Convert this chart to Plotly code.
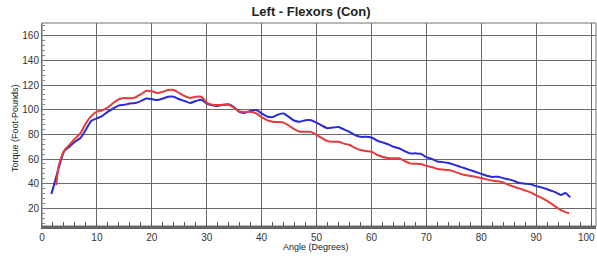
import plotly.graph_objects as go

# Data
blue_angle = [1.7, 2, 3, 4, 5, 6, 7, 8, 9, 10, 11, 12, 13, 14, 15, 16, 17, 18, 19, 20,
              21, 22, 23, 24, 25, 26, 27, 28, 29, 30, 31, 32, 33, 34, 35, 36, 37, 38, 39, 40,
              41, 42, 43, 44, 45, 46, 47, 48, 49, 50, 51, 52, 53, 54, 55, 56, 57, 58, 59, 60,
              61, 62, 63, 64, 65, 66, 67, 68, 69, 70, 71, 72, 73, 74, 75, 76, 77, 78, 79, 80,
              81, 82, 83, 84, 85, 86, 87, 88, 89, 90, 91, 92, 93, 94, 94.5, 95.3, 96.2]
blue_torque = [31.6, 36, 52, 66, 70, 74, 77, 84, 91, 93, 95, 98.5, 101, 103.5, 104, 105, 105.5, 107, 109, 108.5,
               107.8, 109, 110.5, 110.5, 108.5, 107, 105.5, 107, 108, 105, 103.5, 103, 104, 104.4, 102, 98, 97.5, 99, 99.8, 97,
               94.5, 94, 96, 97, 94, 91, 90.3, 91.5, 91.5, 89.5, 87, 85, 85.5, 86, 84, 82, 79.5, 78, 78, 77.5,
               75, 73.5, 72, 70, 68.7, 66.5, 64.6, 64.6, 64.3, 61.5, 60, 58, 57.5, 56.8, 55.5, 54, 52.5, 51, 49.5, 48,
               46.5, 45.5, 45.7, 44.5, 43.5, 42.2, 40.5, 40, 39.5, 38, 37, 35.5, 34, 32, 30.8, 32.5, 29]

red_angle = [2.6, 3, 4, 5, 6, 7, 8, 9, 10, 11, 12, 13, 14, 15, 16, 17, 18, 19, 20,
             21, 22, 23, 24, 25, 26, 27, 28, 29, 30, 31, 32, 33, 34, 35, 36, 37, 38, 39, 40,
             41, 42, 43, 44, 45, 46, 47, 48, 49, 50, 51, 52, 53, 54, 55, 56, 57, 58, 59, 60,
             61, 62, 63, 64, 65, 66, 67, 68, 69, 70, 71, 72, 73, 74, 75, 76, 77, 78, 79, 80,
             81, 82, 83, 84, 85, 86, 87, 88, 89, 90, 91, 92, 93, 94, 95, 96]
red_torque = [38.9, 53.8, 66.5, 71.5, 76.5, 81, 89, 95, 98.4, 99.5, 102, 105.5, 108.5, 109.5, 109.2, 110, 112.5, 115.3, 115,
              113.5, 114.5, 116, 116, 113.5, 111, 109.5, 110.5, 110.5, 105.7, 104, 103.8, 104, 104, 101.5, 98.5, 98.2, 98.4, 97, 94,
              91.5, 90.3, 90, 89.5, 87, 84, 82.2, 82.2, 82, 79.5, 77, 74.5, 74, 74, 72.5, 71.4, 69, 67.3, 66.5, 65.9,
              63.5, 61.9, 60.8, 60.6, 60.6, 58.5, 56.5, 56.2, 56, 54.5, 53.5, 52, 51.5, 51.1, 50, 48.4, 47, 46.2, 45.5, 44.5,
              43.5, 42.5, 42, 41, 39, 37.5, 36, 34.5, 33, 30.5, 28.5, 26, 23, 20, 17.5, 16]

x_ticks = [0, 10, 20, 30, 40, 50, 60, 70, 80, 90, 100]
y_ticks = [20, 40, 60, 80, 100, 120, 140, 160]

title_text = "Left - Flexors (Con)"
x_title = "Angle (Degrees)"
y_title = "Torque (Foot-Pounds)"

# last x label is drawn as an annotation so it is not clipped by the page edge
x_ticktext = [str(v) for v in x_ticks[:-1]] + [""]

fig = go.Figure()
fig.add_trace(go.Scatter(x=blue_angle, y=blue_torque, mode="lines",
                         line=dict(color="#2b2bd6", width=2, shape="spline", smoothing=0.6),
                         showlegend=False, hoverinfo="skip"))
fig.add_trace(go.Scatter(x=red_angle, y=red_torque, mode="lines",
                         line=dict(color="#e53a3a", width=2, shape="spline", smoothing=0.6),
                         showlegend=False, hoverinfo="skip"))

fig.update_layout(
    width=597, height=256,
    margin=dict(l=42, r=1, t=23, b=30, autoexpand=False),
    paper_bgcolor="white", plot_bgcolor="white",
    font=dict(family="Liberation Sans, Arial, sans-serif", size=10, color="#333333"),
    title=dict(text="<b>" + title_text + "</b>", x=311 / 597, xanchor="center",
               y=1 - 11 / 256, yanchor="middle", yref="container", xref="container",
               font=dict(size=13, color="#222222")),
    xaxis=dict(range=[0, 100.9], tickvals=x_ticks, ticktext=x_ticktext,
               automargin=False, ticklabeloverflow="allow",
               showgrid=True, gridcolor="#6a6a6a", gridwidth=1, zeroline=False,
               showline=True, linecolor="#666666", linewidth=3,
               ticks="inside", ticklen=5, tickcolor="#555555",
               minor=dict(dtick=2, tick0=0, ticks="inside", ticklen=4, tickcolor="#555555", showgrid=False),
               tickfont=dict(size=10, color="#333333")),
    yaxis=dict(range=[5.7, 170.3], tickvals=y_ticks, ticktext=[str(v) for v in y_ticks],
               automargin=False,
               showgrid=True, gridcolor="#6a6a6a", gridwidth=1, zeroline=False,
               showline=True, linecolor="#707070", linewidth=1,
               ticks="inside", ticklen=5, tickcolor="#777777",
               minor=dict(dtick=4, tick0=0, ticks="inside", ticklen=3, tickcolor="#888888", showgrid=False),
               tickfont=dict(size=10, color="#333333")),
    shapes=[dict(type="rect", xref="paper", yref="paper", x0=0, x1=1, y0=0, y1=1,
                 line=dict(color="#707070", width=1), layer="below")],
    annotations=[
        dict(text=str(x_ticks[-1]), xref="x", yref="paper", x=x_ticks[-1], y=-(237 - 226) / 203,
             xanchor="right", yanchor="middle", xshift=6, showarrow=False,
             font=dict(size=10, color="#333333")),
        dict(text=x_title, xref="paper", yref="paper", x=(316 - 42) / 554, y=-(247 - 226) / 203,
             xanchor="center", yanchor="middle", showarrow=False, font=dict(size=9, color="#222222")),
        dict(text=y_title, xref="paper", yref="paper", x=-(42 - 15) / 554, y=(226 - 128) / 203,
             xanchor="center", yanchor="middle", textangle=-90, showarrow=False,
             font=dict(size=9, color="#222222")),
    ],
)

fig.write_html("out.html", config={"displayModeBar": False},
               post_script="document.body.style.margin='0';document.body.style.overflow='hidden';")
